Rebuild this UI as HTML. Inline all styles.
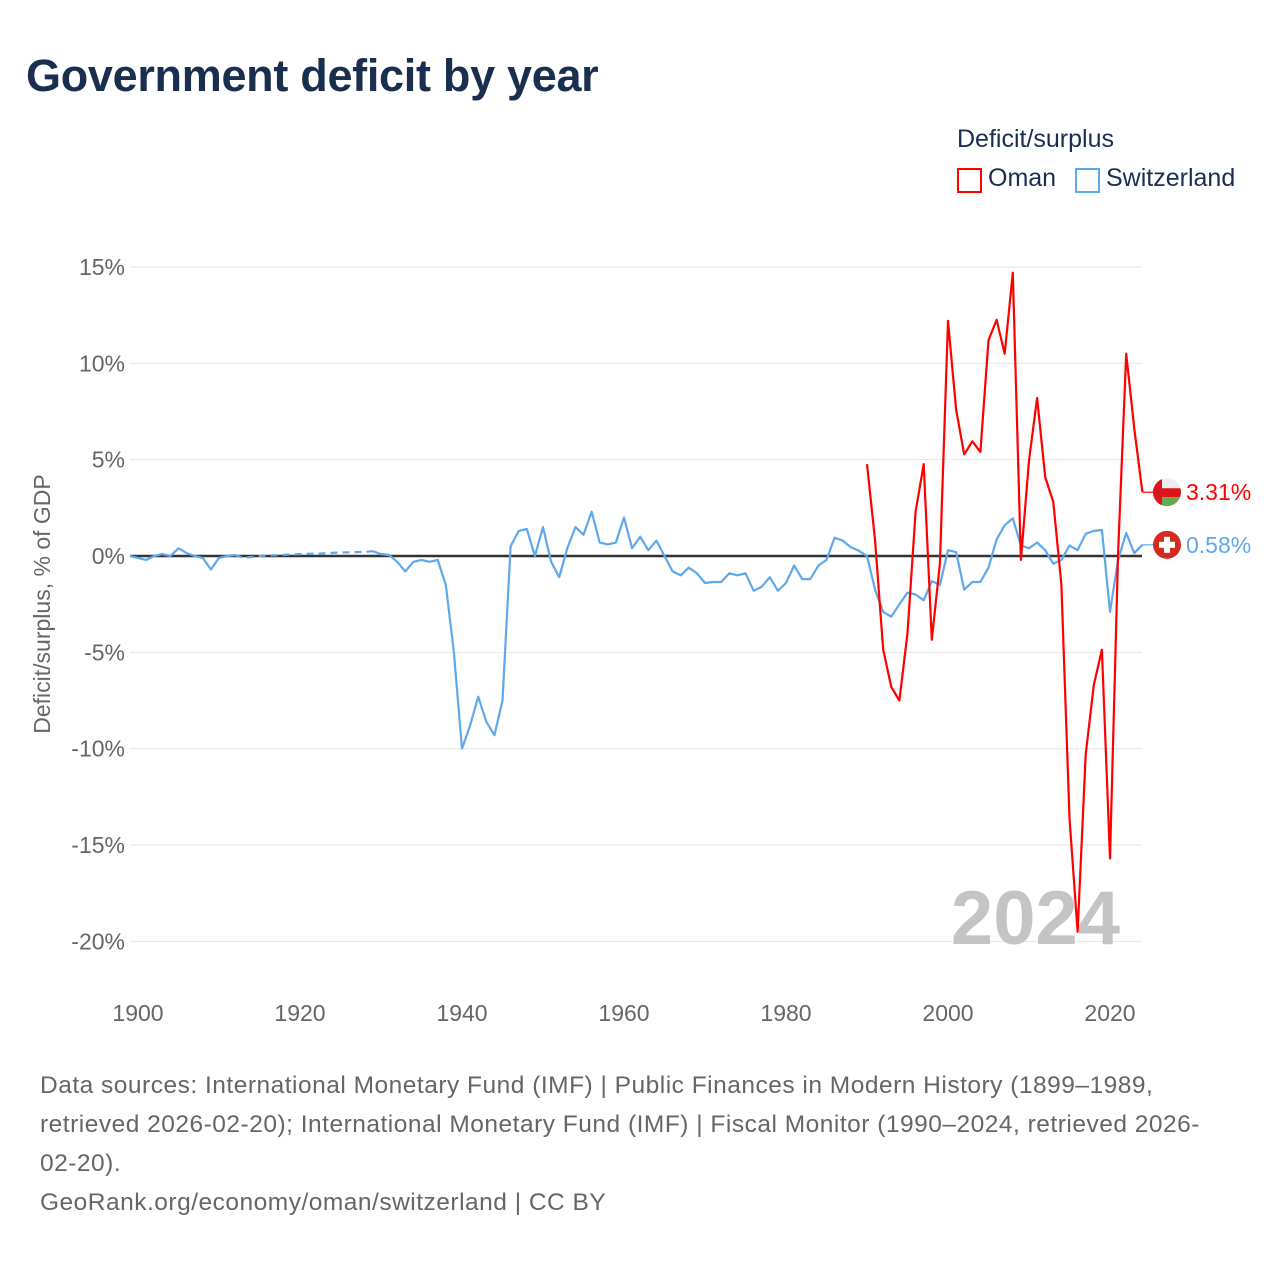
<!DOCTYPE html>
<html><head><meta charset="utf-8">
<style>
html,body{margin:0;padding:0;background:#fff;}
body{width:1280px;height:1280px;position:relative;overflow:hidden;font-family:"Liberation Sans",sans-serif;}
.t{position:absolute;white-space:nowrap;}
</style></head>
<body>
<div class="t" style="left:26px;top:50px;font-size:45px;font-weight:bold;color:#1a2e4f;letter-spacing:-0.3px;">Government deficit by year</div>
<div class="t" style="left:957px;top:125px;font-size:25px;color:#1a2e4f;">Deficit/surplus</div>
<div style="position:absolute;left:957px;top:168px;">
  <div style="position:absolute;left:0;top:0;width:21px;height:21px;border:2px solid #ff0000;"></div>
  <div class="t" style="left:31px;top:-4px;font-size:25px;color:#1a2e4f;">Oman</div>
</div>
<div style="position:absolute;left:1075px;top:168px;">
  <div style="position:absolute;left:0;top:0;width:21px;height:21px;border:2px solid #5ea8ec;"></div>
  <div class="t" style="left:31px;top:-4px;font-size:25px;color:#1a2e4f;">Switzerland</div>
</div>
<svg id="chart" width="1280" height="1280" style="position:absolute;left:0;top:0;" xmlns="http://www.w3.org/2000/svg"></svg>
<div class="t" style="left:40px;top:1066px;font-size:24.5px;line-height:39px;color:#666;letter-spacing:0.5px;">Data sources: International Monetary Fund (IMF) | Public Finances in Modern History (1899–1989,<br>retrieved 2026-02-20); International Monetary Fund (IMF) | Fiscal Monitor (1990–2024, retrieved 2026-<br>02-20).<br>GeoRank.org/economy/oman/switzerland | CC BY</div>
<script>
const yTicks=[15,10,5,0,-5,-10,-15,-20];
const xTicks=[1900,1920,1940,1960,1980,2000,2020];
const swissStart=1899;
const swissValues=[0,-0.1,-0.2,0,0.1,0,0.4,0.15,0,-0.1,-0.7,-0.1,0,0.05,-0.1,-0.05,0,0.02,0.04,0.06,0.08,0.1,0.11,0.12,0.14,0.16,0.18,0.19,0.2,0.22,0.25,0.1,0.05,-0.3,-0.8,-0.3,-0.2,-0.3,-0.2,-1.5,-5,-10,-8.8,-7.3,-8.6,-9.3,-7.5,0.5,1.3,1.4,0,1.5,-0.3,-1.1,0.4,1.5,1.1,2.3,0.7,0.6,0.7,2.0,0.4,1.0,0.3,0.8,0,-0.8,-1.0,-0.6,-0.9,-1.4,-1.35,-1.35,-0.9,-1.0,-0.9,-1.8,-1.6,-1.1,-1.8,-1.4,-0.5,-1.2,-1.2,-0.5,-0.2,0.95,0.8,0.45,0.27,0,-1.75,-2.9,-3.15,-2.5,-1.9,-2.0,-2.3,-1.3,-1.5,0.3,0.2,-1.75,-1.35,-1.35,-0.6,0.85,1.6,1.95,0.55,0.4,0.7,0.3,-0.4,-0.2,0.55,0.3,1.15,1.3,1.35,-2.9,-0.2,1.2,0.15,0.58];
const swissDashFrom=1912, swissDashTo=1929;
const omanStart=1990;
const omanValues=[4.77,0.8,-4.86,-6.8,-7.5,-4.0,2.3,4.77,-4.35,-0.4,12.2,7.6,5.27,5.95,5.4,11.2,12.25,10.5,14.7,-0.2,4.95,8.2,4.1,2.8,-1.5,-13.6,-19.5,-10.3,-6.7,-4.86,-15.7,0.15,10.5,6.6,3.31];
const endLabels=["3.31%","0.58%"];

const NS="http://www.w3.org/2000/svg";
const svg=document.getElementById('chart');
const X=y=>138+(y-1900)*8.1;
const Y=v=>556-v*19.27;
function mk(tag,attrs,parent){const e=document.createElementNS(NS,tag);for(const k in attrs)e.setAttribute(k,attrs[k]);(parent||svg).appendChild(e);return e;}

yTicks.forEach(v=>{
  const l=mk('line',{x1:130,x2:1142,y1:Y(v),y2:Y(v),stroke:v===0?'#333':'#e6e6e6','stroke-width':v===0?2.5:1});
  
  
  const t=mk('text',{x:125,y:Y(v)+8,'text-anchor':'end','font-size':23,fill:'#666','font-family':'Liberation Sans, sans-serif'});
  t.textContent=v+'%';
  
  
});
xTicks.forEach(yr=>{
  const t=mk('text',{x:X(yr),y:1021,'text-anchor':'middle','font-size':23,fill:'#666','font-family':'Liberation Sans, sans-serif'});
  t.textContent=yr;
  
  
});
const yt=mk('text',{transform:'translate(50,604) rotate(-90)','text-anchor':'middle','font-size':23,fill:'#666','font-family':'Liberation Sans, sans-serif'});
yt.textContent='Deficit/surplus, % of GDP';



const wm=mk('text',{x:1120,y:944,'text-anchor':'end','font-size':76,'font-weight':'bold',fill:'#c4c4c4','font-family':'Liberation Sans, sans-serif'});
wm.textContent='2024';



function pts(start,vals,from,to){return vals.map((v,i)=>[start+i,v]).filter(p=>p[0]>=from&&p[0]<=to).map(p=>X(p[0]).toFixed(1)+','+Y(p[1]).toFixed(1)).join(' ');}
const sEnd=swissStart+swissValues.length-1;
[[swissStart,swissDashFrom,''],[swissDashFrom,swissDashTo,'7,5'],[swissDashTo,sEnd,'']].forEach(s=>{
  const p=mk('polyline',{points:pts(swissStart,swissValues,s[0],s[1]),fill:'none',stroke:'#5ea8ec','stroke-width':2.2,'stroke-dasharray':s[2]||'none','stroke-linejoin':'round'});
  
  
});
const om=mk('polyline',{points:pts(omanStart,omanValues,omanStart,2024),fill:'none',stroke:'#ff0000','stroke-width':2.2,'stroke-linejoin':'round'});



const defs=mk('defs',{});
const cp=mk('clipPath',{id:'omclip'},defs);
const oLast=omanValues[omanValues.length-1], sLast=swissValues[swissValues.length-1];
mk('circle',{cx:1167,cy:Y(oLast),r:14},cp);
const ly=[[Y(oLast),'#ff0000','oman'],[Y(sLast),'#5ea8ec','switzerland']];
ly.forEach((d,i)=>{
  const c=mk('line',{x1:X(2024),x2:1155,y1:d[0],y2:d[0],stroke:d[1],'stroke-width':1.2});
  
  
  const g=mk('g',{});
  
  
  if(i===0){
    const f=mk('g',{'clip-path':'url(#omclip)'},g);
    mk('rect',{x:1153,y:d[0]-14,width:28,height:10,fill:'#eeeeee'},f);
    mk('rect',{x:1153,y:d[0]-4,width:28,height:9,fill:'#db161b'},f);
    mk('rect',{x:1153,y:d[0]+5,width:28,height:10,fill:'#6aa84f'},f);
    mk('rect',{x:1153,y:d[0]-14,width:9,height:28,fill:'#db161b'},f);
  }else{
    mk('circle',{cx:1167,cy:d[0],r:14,fill:'#d52b1e'},g);
    mk('rect',{x:1164,y:d[0]-8,width:6,height:16,fill:'#fff'},g);
    mk('rect',{x:1159,y:d[0]-3,width:16,height:6,fill:'#fff'},g);
  }
  const t=mk('text',{x:1186,y:d[0]+8,'font-size':23,fill:d[1],'font-family':'Liberation Sans, sans-serif'});
  t.textContent=endLabels[i];
  
  
});
</script>
</body></html>
